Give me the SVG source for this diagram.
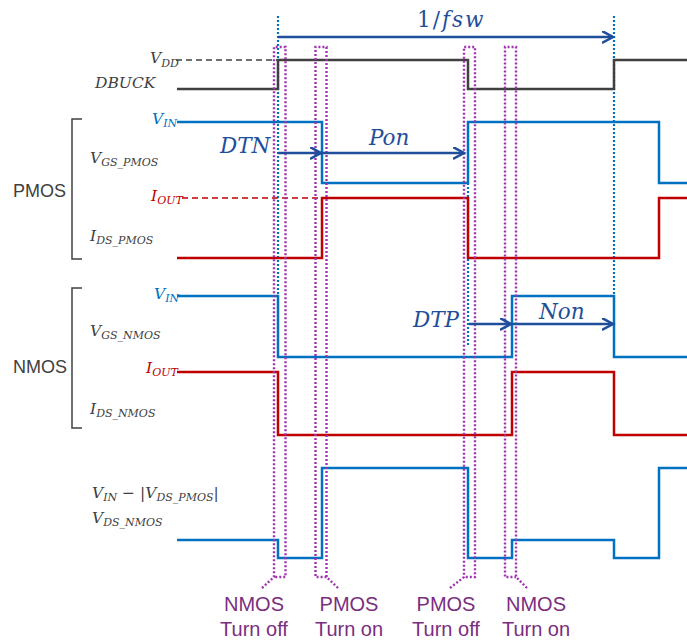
<svg xmlns="http://www.w3.org/2000/svg" width="687" height="643" viewBox="0 0 687 643">
<style>
.sig{fill:none;stroke-width:2.5;stroke-linejoin:miter}
.gray{stroke:#404040}
.blue{stroke:#0070C0}
.red{stroke:#C00000}
.dash{fill:none;stroke-width:1.5;stroke-dasharray:6 4}
.bdot{fill:none;stroke:#0070C0;stroke-width:2.2;stroke-dasharray:2 2}
.mdot{fill:none;stroke:#A032B0;stroke-width:2.4;stroke-dasharray:2 2}
.arr{fill:none;stroke:#1F4E9A;stroke-width:2.5;marker-end:url(#ah)}
.brk{fill:none;stroke:#404040;stroke-width:1.5}
.lbl{font-family:"DejaVu Serif","Liberation Serif",serif;font-style:italic;font-size:15.5px;fill:#404040}
.sub{font-size:11px}
.tb{fill:#0070C0}
.tr{fill:#C00000}
.big{font-family:"DejaVu Serif","Liberation Serif",serif;font-style:italic;font-size:21.5px;fill:#1F4E9A}
.up{font-style:normal}
.sans{font-family:"Liberation Sans",Arial,sans-serif;font-size:18px;fill:#404040}
.pur{font-family:"Liberation Sans",Arial,sans-serif;font-size:20px;fill:#7B2D80;text-anchor:middle}
</style>
<defs>
<marker id="ah" markerUnits="userSpaceOnUse" markerWidth="14" markerHeight="14" refX="11" refY="6" orient="auto">
<path d="M0,0 L11,6 L0,12" fill="none" stroke="#1F4E9A" stroke-width="2.5"/>
</marker>
</defs>

<g id="brackets">
<path class="brk" d="M82,119 H72 V259 H82"/>
<path class="brk" d="M82,288 H72 V428 H82"/>
<text class="sans" x="13" y="197">PMOS</text>
<text class="sans" x="13" y="373">NMOS</text>
</g>

<g id="labels">
<text class="lbl" x="150" y="63">V<tspan class="sub" dy="4">DD</tspan></text>
<text class="lbl" x="95" y="88">DBUCK</text>
<text class="lbl tb" x="152" y="124">V<tspan class="sub" dy="3">IN</tspan></text>
<text class="lbl" x="90" y="163">V<tspan class="sub" dy="3">GS_PMOS</tspan></text>
<text class="lbl tr" x="151" y="201">I<tspan class="sub" dy="3">OUT</tspan></text>
<text class="lbl" x="90" y="241">I<tspan class="sub" dy="3">DS_PMOS</tspan></text>
<text class="lbl tb" x="154" y="299">V<tspan class="sub" dy="3">IN</tspan></text>
<text class="lbl" x="90" y="336">V<tspan class="sub" dy="3">GS_NMOS</tspan></text>
<text class="lbl tr" x="146" y="373">I<tspan class="sub" dy="3">OUT</tspan></text>
<text class="lbl" x="90" y="414">I<tspan class="sub" dy="3">DS_NMOS</tspan></text>
<text class="lbl" x="92" y="498">V<tspan class="sub" dy="3">IN</tspan><tspan class="up" dy="-3"> − |</tspan>V<tspan class="sub" dy="3">DS_PMOS</tspan><tspan class="up" dy="-3">|</tspan></text>
<text class="lbl" x="92" y="523">V<tspan class="sub" dy="3">DS_NMOS</tspan></text>
</g>

<g id="timing-marks">
<line class="bdot" x1="278" y1="16" x2="278" y2="296"/>
<line class="bdot" x1="614" y1="16" x2="614" y2="296"/>
<line class="bdot" x1="468" y1="183" x2="468" y2="347"/>
</g>

<g id="dashed-levels">
<line class="dash" stroke="#404040" x1="176" y1="60" x2="278" y2="60"/>
<line class="dash" stroke="#C00000" x1="182" y1="198" x2="322" y2="198"/>
</g>

<g id="signals">
<path class="sig gray" d="M177,89 H278 V60 H468 V89 H614 V60 H687"/>
<path class="sig blue" d="M177,122 H322 V183 H468 V122 H659 V183 H687"/>
<path class="sig red" d="M177,258 H322 V198 H468 V258 H659 V198 H687"/>
<path class="sig blue" d="M177,296 H278 V357 H512 V296 H614 V357 H687"/>
<path class="sig red" d="M177,372 H278 V435 H512 V372 H614 V435 H687"/>
<path class="sig blue" d="M177,540 H278 V558 H322 V468 H468 V558 H512 V540 H614 V558 H659 V468 H687"/>
</g>

<g id="deadtime-windows">
<path class="mdot" d="M262,588 L274,577 V47 H285.5 V577 H274"/>
<path class="mdot" d="M338,588 L326.5,577 V47 H315.5 V577 H326.5"/>
<path class="mdot" d="M450,588 L464,577 V47 H475 V577 H464"/>
<path class="mdot" d="M527,588 L516,577 V47 H505 V577 H516"/>
</g>

<g id="connectors">
<line class="arr" x1="278" y1="37" x2="613" y2="37"/>
<line class="arr" x1="278" y1="153" x2="321" y2="153"/>
<line class="arr" x1="322" y1="153" x2="464" y2="153"/>
<line class="arr" x1="469" y1="324" x2="511" y2="324"/>
<line class="arr" x1="513" y1="324" x2="613" y2="324"/>
</g>

<g id="interval-labels">
<text class="big" x="417" y="27" letter-spacing="2"><tspan class="up">1/</tspan>fsw</text>
<text class="big" x="220" y="153">DTN</text>
<text class="big" x="369" y="145">Pon</text>
<text class="big" x="413" y="327">DTP</text>
<text class="big" x="539" y="319">Non</text>
</g>

<g id="bottom-labels">
<text class="pur" x="254" y="611">NMOS</text>
<text class="pur" x="254" y="636">Turn off</text>
<text class="pur" x="349" y="611">PMOS</text>
<text class="pur" x="349" y="636">Turn on</text>
<text class="pur" x="446" y="611">PMOS</text>
<text class="pur" x="446" y="636">Turn off</text>
<text class="pur" x="536" y="611">NMOS</text>
<text class="pur" x="536" y="636">Turn on</text>
</g>
</svg>
